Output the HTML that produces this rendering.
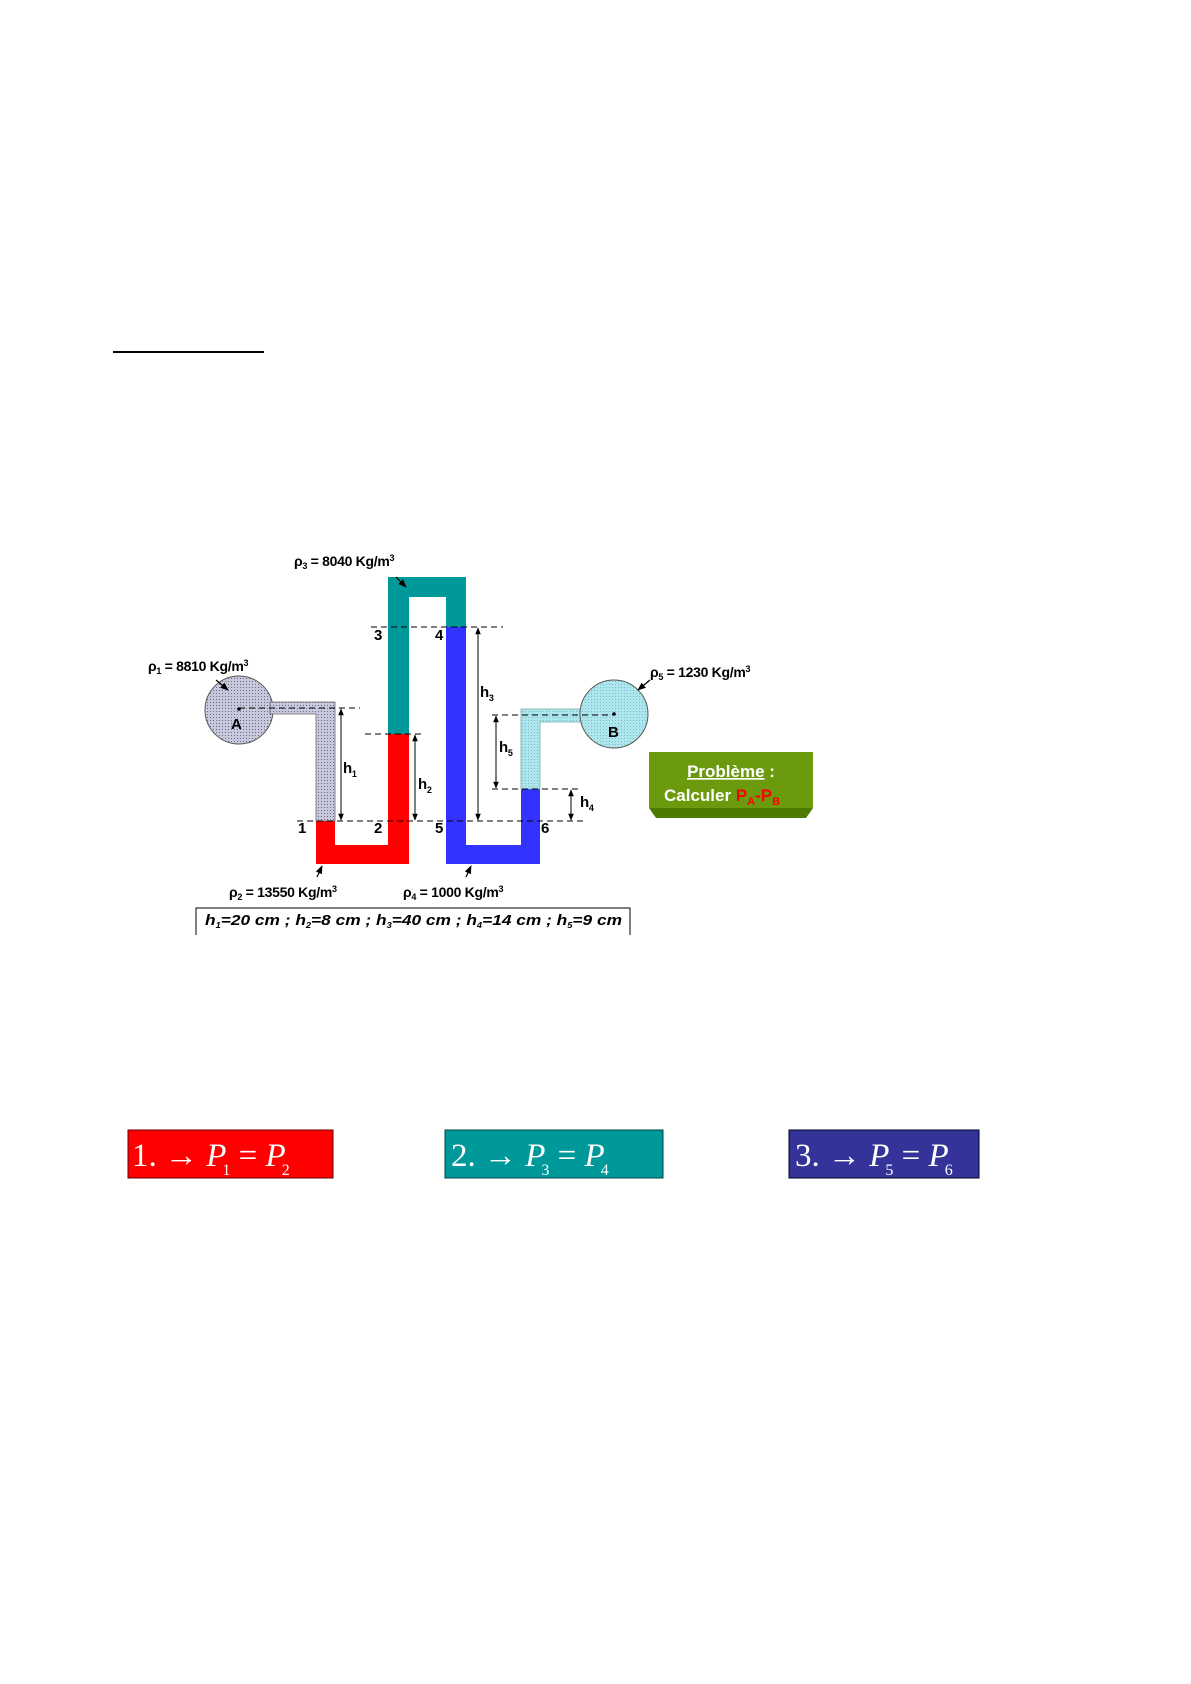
<!DOCTYPE html>
<html><head><meta charset="utf-8"><style>
body{margin:0;background:#fff;}
svg{display:block;}
</style></head><body>
<svg width="1191" height="1684" viewBox="0 0 1191 1684" xmlns="http://www.w3.org/2000/svg" style="font-family:'Liberation Sans',Arial,sans-serif">
<defs>
<marker id="ar" viewBox="0 0 10 10" refX="9" refY="5" markerWidth="7" markerHeight="7" orient="auto-start-reverse"><path d="M0,1 L10,5 L0,9 z" fill="#000"/></marker>
<pattern id="gp" width="3" height="3" patternUnits="userSpaceOnUse"><rect width="3" height="3" fill="#c8c8dc"/><rect width="1" height="1" fill="#6a6a88"/></pattern>
<pattern id="cp" width="3" height="3" patternUnits="userSpaceOnUse"><rect width="3" height="3" fill="#aee6ee"/><rect width="1" height="1" fill="#7fb9c4"/></pattern>
</defs>
<line x1="113" y1="352" x2="264" y2="352" stroke="#000" stroke-width="2"/>

<circle cx="239" cy="710" r="34" fill="url(#gp)" stroke="#555" stroke-width="1"/>
<path d="M270,702 H335 V821 H316 V714 H270 Z" fill="url(#gp)" stroke="#666" stroke-width="0.8"/>
<path d="M316,821 H335 V845 H388 V734 H409 V864 H316 Z" fill="#ff0000"/>
<path d="M388,734 V577 H466 V627 H446 V597 H409 V734 Z" fill="#009999"/>
<path d="M446,627 H466 V845 H521 V789 H540 V864 H446 Z" fill="#3333ff"/>
<path d="M521,789 V709 H584 V722 H540 V789 Z" fill="url(#cp)" stroke="#7aa" stroke-width="0.8"/>
<circle cx="614" cy="714" r="34" fill="url(#cp)" stroke="#555" stroke-width="1"/>
<circle cx="239" cy="709" r="1.8" fill="#000"/>
<circle cx="614" cy="714" r="1.8" fill="#000"/>

<g stroke="#000" stroke-width="1" stroke-dasharray="6,4" fill="none">
<line x1="239" y1="708" x2="360" y2="708"/>
<line x1="365" y1="734" x2="423" y2="734"/>
<line x1="371" y1="627" x2="503" y2="627"/>
<line x1="492" y1="715" x2="614" y2="715"/>
<line x1="492" y1="789" x2="578" y2="789"/>
<line x1="297" y1="821" x2="585" y2="821"/>
</g>
<g stroke="#000" stroke-width="1" marker-start="url(#ar)" marker-end="url(#ar)">
<line x1="341" y1="709" x2="341" y2="820"/>
<line x1="415" y1="735" x2="415" y2="820"/>
<line x1="478" y1="628" x2="478" y2="820"/>
<line x1="496" y1="716" x2="496" y2="788"/>
<line x1="571" y1="790" x2="571" y2="820"/>
</g>
<g stroke="#000" stroke-width="1.2" marker-end="url(#ar)">
<line x1="396" y1="577" x2="406" y2="587"/>
<line x1="216" y1="680" x2="228" y2="690"/>
<line x1="650" y1="680" x2="638" y2="690"/>
<line x1="317" y1="877" x2="322" y2="866"/>
<line x1="466" y1="877" x2="471" y2="866"/>
</g>
<g font-weight="bold" font-size="14" letter-spacing="-0.3">
<text x="294" y="566">ρ<tspan font-size="9" dy="3">3</tspan><tspan dy="-3"> = 8040 Kg/m</tspan><tspan font-size="9" dy="-5">3</tspan></text>
<text x="148" y="671">ρ<tspan font-size="9" dy="3">1</tspan><tspan dy="-3"> = 8810 Kg/m</tspan><tspan font-size="9" dy="-5">3</tspan></text>
<text x="650" y="677">ρ<tspan font-size="9" dy="3">5</tspan><tspan dy="-3"> = 1230 Kg/m</tspan><tspan font-size="9" dy="-5">3</tspan></text>
<text x="229" y="897">ρ<tspan font-size="9" dy="3">2</tspan><tspan dy="-3"> = 13550 Kg/m</tspan><tspan font-size="9" dy="-5">3</tspan></text>
<text x="403" y="897">ρ<tspan font-size="9" dy="3">4</tspan><tspan dy="-3"> = 1000 Kg/m</tspan><tspan font-size="9" dy="-5">3</tspan></text>
<g font-size="15">
<text x="231" y="729">A</text><text x="608" y="737">B</text>
<text x="374" y="640">3</text><text x="435" y="640">4</text>
<text x="298" y="833">1</text><text x="374" y="833">2</text><text x="435" y="833">5</text><text x="541" y="833">6</text>
<text x="343" y="773">h<tspan font-size="9" dy="4">1</tspan></text>
<text x="418" y="789">h<tspan font-size="9" dy="4">2</tspan></text>
<text x="480" y="697">h<tspan font-size="9" dy="4">3</tspan></text>
<text x="499" y="752">h<tspan font-size="9" dy="4">5</tspan></text>
<text x="580" y="807">h<tspan font-size="9" dy="4">4</tspan></text>
</g>
</g>
<path d="M196,935 V908 H630 V935" fill="none" stroke="#000" stroke-width="1"/>
<text x="205" y="925" font-size="15" font-weight="bold" font-style="italic" textLength="417" lengthAdjust="spacingAndGlyphs">h<tspan font-size="8" dy="3">1</tspan><tspan dy="-3">=20 cm ; h</tspan><tspan font-size="8" dy="3">2</tspan><tspan dy="-3">=8 cm ; h</tspan><tspan font-size="8" dy="3">3</tspan><tspan dy="-3">=40 cm ; h</tspan><tspan font-size="8" dy="3">4</tspan><tspan dy="-3">=14 cm ; h</tspan><tspan font-size="8" dy="3">5</tspan><tspan dy="-3">=9 cm</tspan></text>

<path d="M649,808 H813 L806,818 H656 Z" fill="#4d7a00"/>
<rect x="649" y="752" width="164" height="56" fill="#6b9a0e"/>
<text x="731" y="777" text-anchor="middle" font-size="17" font-weight="bold" fill="#fff"><tspan text-decoration="underline">Problème</tspan> :</text>
<text x="664" y="801" font-size="17" font-weight="bold" fill="#fff">Calculer <tspan fill="#ff0000">P<tspan font-size="11" dy="4">A</tspan><tspan dy="-4" font-size="17">-P</tspan><tspan font-size="11" dy="4">B</tspan></tspan></text>

<g style="font-family:'Liberation Serif',serif" fill="#fff" font-size="33">
<rect x="128" y="1130" width="205" height="48" fill="#ff0000" stroke="#600" stroke-width="1"/>
<text x="132" y="1166">1. → <tspan font-style="italic">P</tspan><tspan font-size="16" dy="9" dx="-4">1</tspan><tspan dy="-9"> = </tspan><tspan font-style="italic">P</tspan><tspan font-size="16" dy="9" dx="-4">2</tspan></text>
<rect x="445" y="1130" width="218" height="48" fill="#009999" stroke="#044" stroke-width="1"/>
<text x="451" y="1166">2. → <tspan font-style="italic">P</tspan><tspan font-size="16" dy="9" dx="-4">3</tspan><tspan dy="-9"> = </tspan><tspan font-style="italic">P</tspan><tspan font-size="16" dy="9" dx="-4">4</tspan></text>
<rect x="789" y="1130" width="190" height="48" fill="#333399" stroke="#002" stroke-width="1"/>
<text x="795" y="1166">3. → <tspan font-style="italic">P</tspan><tspan font-size="16" dy="9" dx="-4">5</tspan><tspan dy="-9"> = </tspan><tspan font-style="italic">P</tspan><tspan font-size="16" dy="9" dx="-4">6</tspan></text>
</g>
</svg>
</body></html>
